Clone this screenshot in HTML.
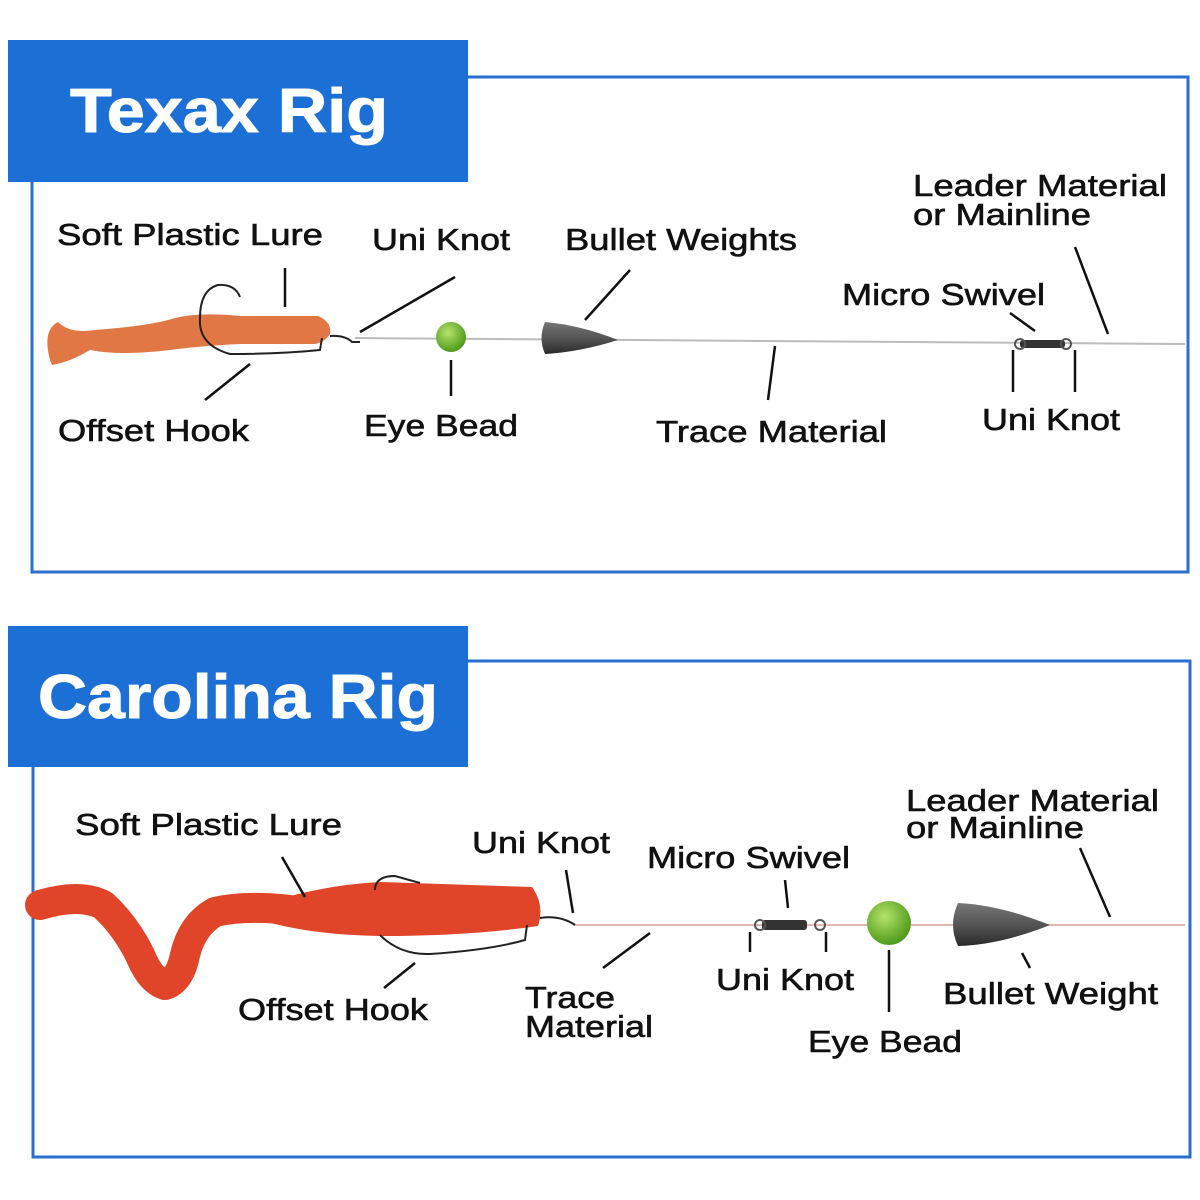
<!DOCTYPE html>
<html><head><style>
html,body{margin:0;padding:0;background:#fff;width:1200px;height:1200px;overflow:hidden}
svg text{font-family:"Liberation Sans",Arial,sans-serif;fill:#111;stroke:#111;stroke-width:.6}
</style></head><body>
<svg width="1200" height="1200" viewBox="0 0 1200 1200" xmlns="http://www.w3.org/2000/svg">
<defs>
<radialGradient id="bead" cx="40%" cy="35%" r="65%"><stop offset="0" stop-color="#b5e36a"/><stop offset="1" stop-color="#4f9a1c"/></radialGradient>
<linearGradient id="lead" x1="0" y1="0" x2="0" y2="1"><stop offset="0" stop-color="#777"/><stop offset=".5" stop-color="#555"/><stop offset="1" stop-color="#2a2a2a"/></linearGradient>
</defs>
<!-- Panel 1 -->
<rect x="32" y="77" width="1156" height="495" fill="none" stroke="#2a6fd0" stroke-width="3"/>
<rect x="8" y="40" width="460" height="142" fill="#1c6fd4"/>
<text x="70" y="132" font-size="62" font-weight="bold" textLength="318" lengthAdjust="spacingAndGlyphs" style="fill:#fff;stroke:#fff;stroke-width:1">Texax Rig</text>

<line x1="355" y1="338" x2="1185" y2="344" stroke="#bbb" stroke-width="2"/>
<path d="M50 360 Q42 330 58 322 Q70 334 95 330 Q150 326 175 318 Q200 312 240 316 L318 316 Q332 322 330 334 Q325 342 315 344 L240 344 Q200 346 170 350 Q120 356 90 350 Q70 362 52 365Z" fill="#e07744"/>
<path d="M330 336 Q345 335 352 342 L360 342" stroke="#222" stroke-width="2" fill="none"/>
<path d="M200 318 Q200 290 218 285 Q235 284 240 297 M200 318 Q198 345 230 354 Q280 354 320 350 L322 338" stroke="#222" stroke-width="2" fill="none"/>
<circle cx="451" cy="337" r="15" fill="url(#bead)"/>
<path d="M545 322 Q580 325 618 340 Q580 352 545 354 Q538 338 545 322Z" fill="url(#lead)"/>
<rect x="1020" y="340" width="45" height="8" rx="3" fill="#333"/>
<circle cx="1020" cy="344" r="5" fill="none" stroke="#555" stroke-width="2"/>
<circle cx="1066" cy="344" r="5" fill="none" stroke="#555" stroke-width="2"/>

<g stroke="#111" stroke-width="2.5" fill="none">
<line x1="285" y1="268" x2="285" y2="307"/>
<line x1="250" y1="364" x2="205" y2="400"/>
<line x1="455" y1="277" x2="360" y2="332"/>
<line x1="451" y1="360" x2="451" y2="396"/>
<line x1="630" y1="270" x2="585" y2="320"/>
<line x1="775" y1="346" x2="768" y2="400"/>
<line x1="1010" y1="313" x2="1035" y2="331"/>
<line x1="1075" y1="247" x2="1108" y2="334"/>
<line x1="1013" y1="350" x2="1013" y2="392"/>
<line x1="1075" y1="350" x2="1075" y2="392"/>
</g>
<g font-size="31">
<text x="57" y="245" textLength="266" lengthAdjust="spacingAndGlyphs">Soft Plastic Lure</text>
<text x="372" y="250" textLength="138" lengthAdjust="spacingAndGlyphs">Uni Knot</text>
<text x="565" y="250" textLength="232" lengthAdjust="spacingAndGlyphs">Bullet Weights</text>
<text x="913" y="196" textLength="254" lengthAdjust="spacingAndGlyphs">Leader Material</text>
<text x="913" y="225" textLength="178" lengthAdjust="spacingAndGlyphs">or Mainline</text>
<text x="842" y="305" textLength="203" lengthAdjust="spacingAndGlyphs">Micro Swivel</text>
<text x="58" y="441" textLength="191" lengthAdjust="spacingAndGlyphs">Offset Hook</text>
<text x="364" y="436" textLength="154" lengthAdjust="spacingAndGlyphs">Eye Bead</text>
<text x="656" y="442" textLength="231" lengthAdjust="spacingAndGlyphs">Trace Material</text>
<text x="982" y="430" textLength="138" lengthAdjust="spacingAndGlyphs">Uni Knot</text>
</g>

<!-- Panel 2 -->
<rect x="33" y="661" width="1157" height="496" fill="none" stroke="#2a6fd0" stroke-width="3"/>
<rect x="8" y="626" width="460" height="141" fill="#1c6fd4"/>
<text x="38" y="718" font-size="62" font-weight="bold" textLength="400" lengthAdjust="spacingAndGlyphs" style="fill:#fff;stroke:#fff;stroke-width:1">Carolina Rig</text>

<line x1="575" y1="925" x2="1185" y2="925" stroke="#e3b7b7" stroke-width="2"/>
<path d="M40 905 Q80 893 103 905 Q125 925 140 955 Q150 980 165 985 Q180 980 185 955 Q192 925 215 912 Q245 905 290 910" stroke="#e0452a" stroke-width="30" fill="none" stroke-linejoin="round" stroke-linecap="round"/>
<path d="M260 905 Q320 885 380 882 L532 887 Q545 905 538 926 Q470 936 380 936 Q310 935 260 920Z" fill="#e0452a"/>
<path d="M540 918 Q560 915 575 925" stroke="#222" stroke-width="2" fill="none"/>
<path d="M375 890 Q375 876 395 876 L420 883 M380 935 Q400 955 430 954 Q490 950 525 940 L527 925" stroke="#222" stroke-width="2" fill="none"/>
<rect x="762" y="920" width="45" height="10" rx="3" fill="#333"/>
<circle cx="760" cy="925" r="5" fill="none" stroke="#555" stroke-width="2"/>
<circle cx="820" cy="925" r="5" fill="none" stroke="#555" stroke-width="2"/>
<circle cx="889" cy="923" r="22" fill="url(#bead)"/>
<path d="M958 903 Q1000 905 1050 925 Q1000 945 958 946 Q948 925 958 903Z" fill="url(#lead)"/>

<g stroke="#111" stroke-width="2.5" fill="none">
<line x1="282" y1="857" x2="305" y2="897"/>
<line x1="415" y1="963" x2="384" y2="988"/>
<line x1="566" y1="870" x2="573" y2="913"/>
<line x1="650" y1="933" x2="603" y2="968"/>
<line x1="785" y1="880" x2="788" y2="908"/>
<line x1="750" y1="932" x2="750" y2="952"/>
<line x1="826" y1="932" x2="826" y2="952"/>
<line x1="889" y1="950" x2="889" y2="1012"/>
<line x1="1022" y1="953" x2="1030" y2="968"/>
<line x1="1080" y1="848" x2="1110" y2="917"/>
</g>
<g font-size="31">
<text x="75" y="835" textLength="267" lengthAdjust="spacingAndGlyphs">Soft Plastic Lure</text>
<text x="472" y="853" textLength="138" lengthAdjust="spacingAndGlyphs">Uni Knot</text>
<text x="647" y="868" textLength="203" lengthAdjust="spacingAndGlyphs">Micro Swivel</text>
<text x="906" y="811" textLength="253" lengthAdjust="spacingAndGlyphs">Leader Material</text>
<text x="906" y="838" textLength="178" lengthAdjust="spacingAndGlyphs">or Mainline</text>
<text x="238" y="1020" textLength="190" lengthAdjust="spacingAndGlyphs">Offset Hook</text>
<text x="525" y="1008" textLength="90" lengthAdjust="spacingAndGlyphs">Trace</text>
<text x="525" y="1037" textLength="128" lengthAdjust="spacingAndGlyphs">Material</text>
<text x="716" y="990" textLength="138" lengthAdjust="spacingAndGlyphs">Uni Knot</text>
<text x="943" y="1004" textLength="215" lengthAdjust="spacingAndGlyphs">Bullet Weight</text>
<text x="808" y="1052" textLength="154" lengthAdjust="spacingAndGlyphs">Eye Bead</text>
</g>
</svg>
</body></html>
